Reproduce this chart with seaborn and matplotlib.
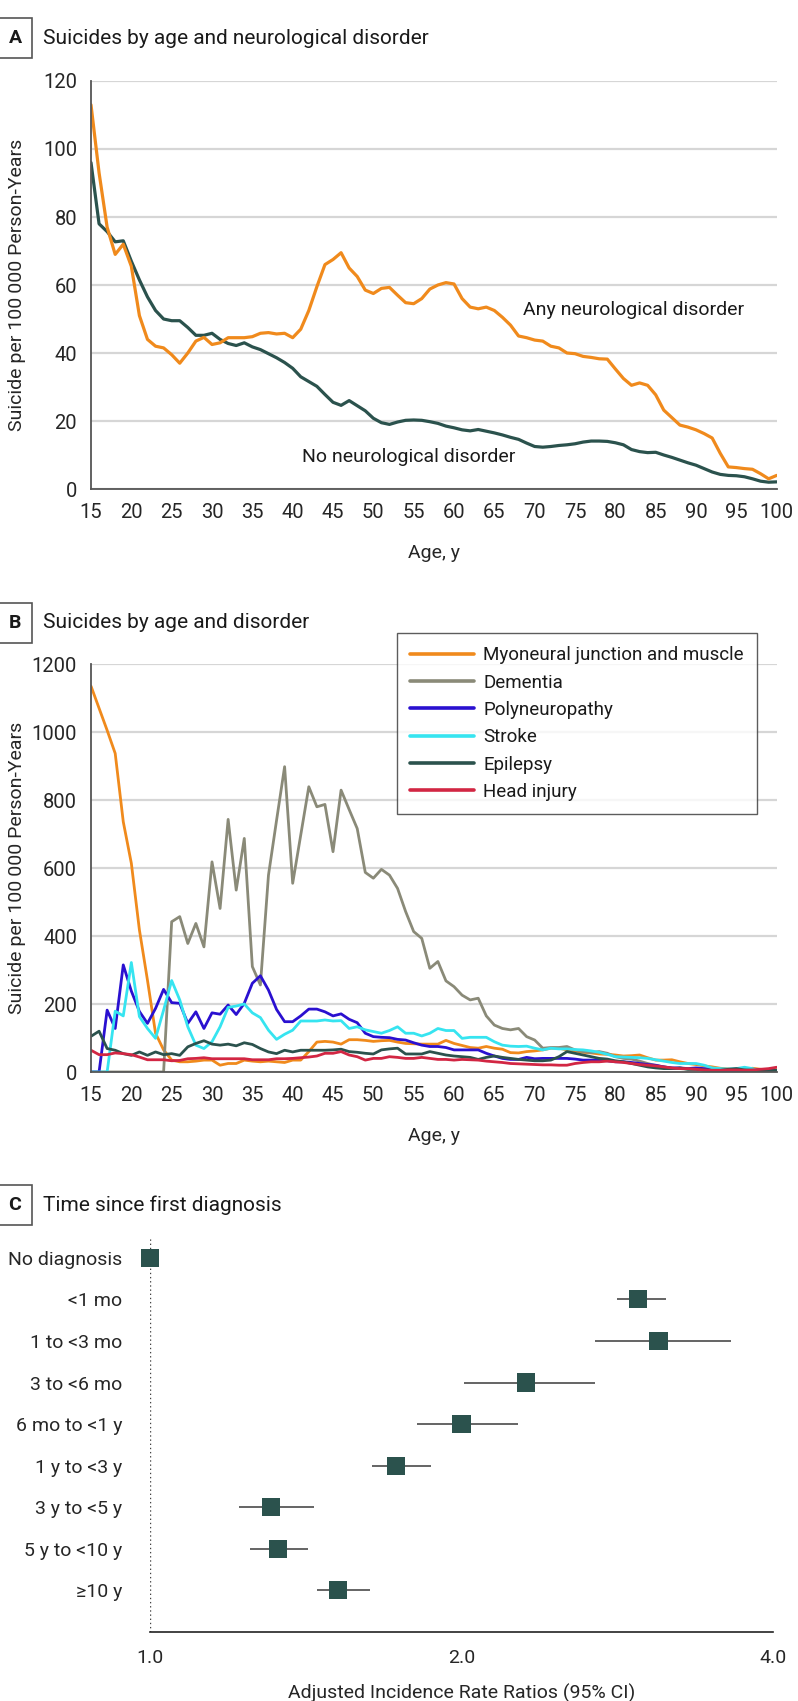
import numpy as np
import pandas as pd
import seaborn as sns
import matplotlib.pyplot as plt
from matplotlib.lines import Line2D

# --------------------
# Data
# --------------------
AGES = list(range(15, 101))

ANY_NEURO = [113, 93, 77, 69, 72, 65.5, 51, 44, 42, 41.5,
             39.5, 37, 40, 43.5, 44.6, 42.5, 43, 44.5, 44.5, 44.5,
             44.8, 45.8, 46, 45.6, 45.8, 44.5, 47, 52.5, 59.5, 66,
             67.5, 69.5, 65, 62.5, 58.5, 57.5, 59, 59.3, 57, 54.8,
             54.5, 56, 58.8, 60, 60.7, 60.3, 56, 53.5, 53, 53.5,
             52.5, 50.5, 48.2, 45, 44.5, 43.8, 43.5, 42, 41.5, 40,
             39.8, 39, 38.7, 38.3, 38.2, 35.3, 32.5, 30.5, 31.2, 30.5,
             27.7, 23.2, 21, 18.8, 18.2, 17.4, 16.3, 15, 10.5, 6.5,
             6.3, 6, 5.8, 4.5, 3, 4]
NO_NEURO = [96, 78, 75.7, 72.7, 73, 67, 61.5, 56.5, 52.5, 50,
            49.5, 49.5, 47.5, 45.2, 45.2, 45.8, 44, 42.8, 42.2, 43,
            41.8, 41, 39.8, 38.6, 37.2, 35.5, 33, 31.6, 30.2, 27.8,
            25.5, 24.6, 26, 24.5, 23, 20.8, 19.5, 19, 19.7, 20.2,
            20.3, 20.2, 19.8, 19.3, 18.5, 18, 17.4, 17.1, 17.5, 17,
            16.5, 15.9, 15.2, 14.6, 13.5, 12.5, 12.3, 12.5, 12.8, 13,
            13.3, 13.8, 14.1, 14.1, 14, 13.6, 13, 11.6, 11, 10.7,
            10.8, 10, 9.3, 8.5, 7.7, 7, 6, 5, 4.3, 4,
            3.9, 3.6, 3, 2.3, 2, 2.1]

MYONEURAL = [1135, 1070, 1005, 937, 736, 614, 418, 270, 114, 65,
             35, 30, 30, 32, 35, 35, 20, 25, 25, 35,
             32, 30, 32, 30, 28, 35, 35, 60, 88, 90,
             88, 82, 95, 95, 93, 90, 92, 93, 88, 84,
             83, 82, 82, 82, 93, 84, 78, 72, 70, 75,
             70, 67, 57, 56, 60, 62, 65, 70, 70, 65,
             62, 58, 56, 53, 52, 50, 47, 48, 50, 42,
             35, 35, 36, 30, 25, 22, 18, 15, 11, 9,
             6, 8, 11, 8, 6, 6]
DEMENTIA = [0, 0, 0, 0, 0, 0, 0, 0, 0, 0,
            442, 457, 378, 437, 368, 618, 481, 743, 535, 687,
            310, 256, 579, 740, 898, 555, 697, 839, 780, 787,
            648, 829, 772, 716, 587, 570, 596, 579, 540, 472,
            413, 393, 305, 325, 268, 251, 226, 212, 217, 165,
            138, 128, 124, 128, 104, 94, 70, 72, 72, 75,
            65, 60, 57, 60, 55, 45, 40, 38, 32, 25,
            19, 15, 11, 10, 8, 8, 6, 5, 5, 5,
            4, 4, 4, 4, 4, 5]
POLYNEURO = [0, 0, 182, 128, 315, 238, 178, 143, 187, 243,
             204, 202, 143, 177, 128, 174, 170, 197, 169, 202,
             261, 283, 241, 184, 148, 148, 165, 185, 185, 177,
             165, 171, 155, 145, 114, 104, 102, 101, 96, 94,
             86, 79, 75, 75, 72, 65, 65, 65, 65, 55,
             47, 40, 37, 37, 43, 39, 40, 40, 40, 40,
             38, 35, 35, 35, 33, 30, 30, 28, 25, 22,
             20, 15, 12, 12, 10, 12, 10, 8, 5, 5,
             5, 5, 8, 5, 3, 5]
STROKE = [0, 0, 0, 179, 165, 322, 163, 128, 99, 182,
          269, 212, 133, 79, 69, 89, 133, 190, 194, 200,
          174, 160, 123, 96, 111, 123, 150, 150, 150, 153,
          150, 151, 128, 133, 124, 119, 114, 122, 133, 114,
          114, 106, 114, 128, 122, 122, 99, 102, 102, 102,
          89, 79, 76, 75, 76, 70, 65, 70, 68, 68,
          66, 65, 62, 58, 52, 45, 44, 43, 42, 40,
          36, 32, 28, 25, 25, 25, 20, 12, 10, 9,
          10, 14, 10, 2, 1, 1]
EPILEPSY = [105, 120, 69, 64, 54, 49, 59, 49, 59, 51,
            54, 49, 74, 84, 92, 82, 79, 82, 77, 86,
            81, 69, 59, 54, 64, 59, 64, 64, 64, 64,
            65, 67, 60, 58, 55, 53, 65, 68, 70, 53,
            53, 53, 60, 55, 50, 47, 45, 43, 37, 43,
            47, 43, 40, 37, 35, 33, 33, 35, 45, 60,
            55, 50, 45, 40, 38, 33, 30, 25, 20, 15,
            12, 10, 10, 12, 8, 8, 6, 5, 5, 8,
            10, 6, 5, 4, 4, 5]
HEAD_INJURY = [64, 51, 51, 56, 54, 51, 44, 36, 36, 36,
               33, 34, 39, 40, 42, 39, 39, 39, 39, 39,
               36, 36, 36, 39, 39, 40, 42, 44, 47, 55,
               55, 60, 50, 45, 35, 40, 40, 45, 43, 40,
               40, 43, 40, 37, 37, 35, 37, 36, 35, 32,
               30, 28, 25, 24, 23, 22, 21, 21, 20, 20,
               25, 28, 30, 30, 32, 30, 28, 25, 22, 20,
               18, 15, 12, 10, 10, 8, 6, 5, 5, 6,
               6, 5, 6, 8, 10, 14]

DISORDERS = ["Myoneural junction and muscle", "Dementia", "Polyneuropathy",
             "Stroke", "Epilepsy", "Head injury"]
DISORDER_VALUES = [MYONEURAL, DEMENTIA, POLYNEURO, STROKE, EPILEPSY, HEAD_INJURY]

TIME_LABELS = ["No diagnosis", "<1 mo", "1 to <3 mo", "3 to <6 mo", "6 mo to <1 y",
               "1 y to <3 y", "3 y to <5 y", "5 y to <10 y", "\u226510 y"]
IRR = [1.0, 2.96, 3.10, 2.31, 2.00, 1.73, 1.31, 1.33, 1.52]
IRR_LOW = [1.0, 2.83, 2.69, 2.01, 1.81, 1.64, 1.22, 1.25, 1.45]
IRR_HIGH = [1.0, 3.15, 3.64, 2.69, 2.27, 1.87, 1.44, 1.42, 1.63]

# --------------------
# Style
# --------------------
ORANGE = "#F08A1C"
TEAL = "#2B524D"
COLORS = [ORANGE, "#8A8A78", "#2A10D0", "#36E4F0", TEAL, "#D22643"]
GRID = "#D6D6D6"
SPINE = "#555555"
W, H = 798, 1701


def style_age_axis(ax, ymax, ystep):
    ax.set_xlim(15, 100)
    ax.set_ylim(0, ymax)
    ax.set_xticks(range(15, 101, 5))
    ax.set_yticks(range(0, ymax + 1, ystep))
    ax.grid(axis="y", color=GRID, linewidth=1.6)
    ax.grid(axis="x", visible=False)
    ax.set_axisbelow(True)
    for s in ["top", "right"]:
        ax.spines[s].set_visible(False)
    for s in ["left", "bottom"]:
        ax.spines[s].set_color(SPINE)
        ax.spines[s].set_linewidth(1.3)
    ax.tick_params(axis="both", direction="out", length=6, width=1.2,
                   color=SPINE, labelsize=14.5, pad=4)
    ax.set_xlabel("Age, y", fontsize=14, labelpad=16)
    ax.set_ylabel("Suicide per 100\u2009000 Person-Years", fontsize=14)
    ax.yaxis.set_label_coords(-0.095, 0.5)


def panel_header(fig, ypix, letter, title):
    y = 1 - ypix / H
    fig.text(15 / W, y, letter, ha="center", va="center", fontsize=14,
             fontweight="bold",
             bbox=dict(boxstyle="square,pad=0.55", fc="white", ec=SPINE, lw=1.2))
    fig.text(43 / W, y, title, ha="left", va="center", fontsize=15)


def main():
    sns.set_theme(style="white")
    plt.rcParams["font.family"] = ["Roboto", "DejaVu Sans"]
    plt.rcParams["text.color"] = "#1a1a1a"

    fig = plt.figure(figsize=(W / 100, H / 100), dpi=100)

    # A. Suicides by age and neurological disorder
    ax_a = fig.add_axes([91 / W, 1 - 489 / H, 685.7 / W, 408 / H])
    df_a = pd.DataFrame({"age": AGES, "any": ANY_NEURO, "none": NO_NEURO})
    sns.lineplot(data=df_a, x="age", y="none", color=TEAL, linewidth=2.3, ax=ax_a)
    sns.lineplot(data=df_a, x="age", y="any", color=ORANGE, linewidth=2.3, ax=ax_a)
    style_age_axis(ax_a, 120, 20)
    ax_a.text(68.6, 52.6, "Any neurological disorder", fontsize=14, va="center")
    ax_a.text(41.2, 9.4, "No neurological disorder", fontsize=14, va="center")
    panel_header(fig, 38, "A", "Suicides by age and neurological disorder")

    # B. Suicides by age and disorder
    ax_b = fig.add_axes([91 / W, 1 - 1072 / H, 685.7 / W, 408 / H])
    df_b = pd.DataFrame({
        "age": AGES * len(DISORDERS),
        "rate": [v for vals in DISORDER_VALUES for v in vals],
        "disorder": [d for d in DISORDERS for _ in AGES],
    })
    sns.lineplot(data=df_b, x="age", y="rate", hue="disorder", hue_order=DISORDERS,
                 palette=COLORS, linewidth=2.0, ax=ax_b, legend=False)
    style_age_axis(ax_b, 1200, 200)
    handles = [Line2D([0], [0], color=c, lw=2.6) for c in COLORS]
    leg = fig.legend(handles, DISORDERS, loc="upper left",
                     bbox_to_anchor=(397 / W, 1 - 633 / H), fontsize=13.5,
                     frameon=True, fancybox=False, handlelength=3.4,
                     labelspacing=0.5, borderpad=0.7, handletextpad=0.5,
                     borderaxespad=0)
    leg.get_frame().set_edgecolor("#333333")
    leg.get_frame().set_linewidth(1.0)
    panel_header(fig, 623, "B", "Suicides by age and disorder")

    # C. Time since first diagnosis
    ax_c = fig.add_axes([150 / W, 1 - 1632 / H, 623 / W, 395 / H])
    rows = list(range(len(TIME_LABELS)))
    ax_c.hlines(rows, IRR_LOW, IRR_HIGH, color="#3a3a3a", linewidth=1.1)
    df_c = pd.DataFrame({"irr": IRR, "row": rows})
    sns.scatterplot(data=df_c, x="irr", y="row", marker="s", s=170, color=TEAL,
                    edgecolor="none", ax=ax_c, zorder=3, clip_on=False)
    ax_c.axvline(1.0, color="#444444", linestyle=(0, (1, 2)), linewidth=1.0)
    ax_c.set_xscale("log")
    ax_c.set_xlim(1.0, 4.0)
    ax_c.set_ylim(9.0, -0.5)
    ax_c.set_xticks([1.0, 2.0, 4.0])
    ax_c.set_xticklabels(["1.0", "2.0", "4.0"])
    ax_c.xaxis.set_minor_locator(plt.NullLocator())
    ax_c.set_yticks(rows)
    ax_c.set_yticklabels(TIME_LABELS)
    for s in ["top", "right", "left"]:
        ax_c.spines[s].set_visible(False)
    ax_c.spines["bottom"].set_color("#222222")
    ax_c.spines["bottom"].set_linewidth(1.2)
    ax_c.tick_params(axis="x", direction="out", length=6, width=1.2,
                     color="#222222", labelsize=14, pad=6)
    ax_c.tick_params(axis="y", length=0, labelsize=14, pad=20)
    ax_c.set_xlabel("Adjusted Incidence Rate Ratios (95% CI)", fontsize=14, labelpad=12)
    ax_c.set_ylabel("")
    panel_header(fig, 1205, "C", "Time since first diagnosis")

    fig.savefig("out.png", dpi=100)
    plt.close(fig)


if __name__ == "__main__":
    main()
